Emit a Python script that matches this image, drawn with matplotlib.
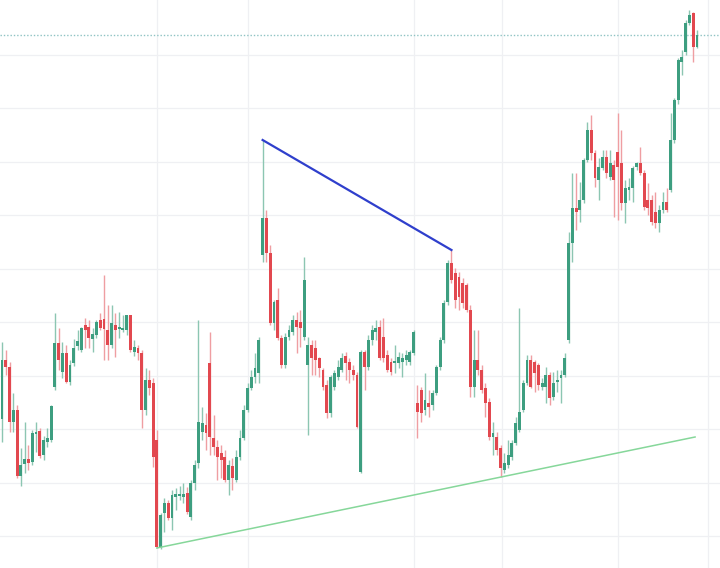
import numpy as np
import matplotlib
matplotlib.use("Agg")
import matplotlib.pyplot as plt

# OHLC, one entry per candle, left to right
opens = [118.1, 124.0, 123.3, 117.8, 119.0, 112.4, 113.6, 114.1, 113.8, 116.6,
         116.9, 114.5, 115.8, 116.0, 121.3, 125.7, 122.8, 124.7, 121.8, 123.7,
         125.4, 125.0, 127.5, 127.3, 126.1, 126.5, 128.0, 128.1, 127.0, 125.5,
         127.5, 127.1, 127.0, 127.0, 128.5, 124.8, 125.2, 124.7, 119.0, 122.0,
         121.7, 116.0, 105.3, 108.7, 109.7, 108.2, 110.3, 110.4, 110.3, 110.7,
         108.3, 111.7, 113.7, 116.8, 117.5, 123.7, 116.2, 115.3, 114.7, 114.3,
         112.0, 113.4, 112.0, 114.3, 116.2, 119.0, 121.2, 122.3, 122.7, 134.5,
         138.2, 134.7, 127.7, 130.0, 126.2, 123.5, 126.3, 126.8, 128.0, 127.8,
         126.3, 123.5, 125.5, 125.2, 124.2, 123.0, 121.5, 118.7, 121.3, 122.3,
         123.0, 124.4, 123.8, 123.0, 122.5, 112.8, 124.8, 123.3, 126.0, 126.8,
         127.3, 126.3, 124.5, 123.8, 123.7, 123.7, 123.8, 124.0, 123.8, 124.7,
         119.7, 121.0, 119.0, 119.7, 119.5, 120.7, 123.3, 126.0, 129.8, 133.7,
         132.7, 132.3, 131.7, 131.5, 129.0, 121.3, 124.0, 123.0, 121.2, 119.8,
         116.3, 116.3, 115.2, 113.0, 113.5, 114.3, 115.7, 117.0, 119.0, 121.7,
         124.0, 123.8, 123.5, 121.3, 121.3, 122.5, 120.3, 121.8, 122.2, 122.5,
         126.0, 135.7, 139.2, 139.0, 140.0, 144.0, 147.0, 144.7, 142.0, 143.2,
         144.3, 142.3, 143.5, 144.8, 143.7, 139.7, 141.0, 141.2, 143.3, 143.7,
         142.7, 140.0, 140.0, 138.8, 137.7, 139.0, 139.8, 141.0, 146.0, 150.0,
         153.8, 154.8, 157.7, 158.7, 155.3]
highs = [125.8, 125.0, 123.8, 120.7, 119.5, 115.2, 117.8, 115.5, 117.0, 117.8,
         117.2, 116.4, 117.2, 119.5, 128.7, 127.2, 125.8, 125.5, 124.0, 126.1,
         127.0, 127.3, 128.2, 128.0, 127.2, 128.0, 128.7, 132.5, 129.5, 129.5,
         128.7, 128.8, 128.5, 128.5, 128.5, 126.0, 125.5, 125.0, 123.2, 123.0,
         122.2, 117.0, 108.7, 110.2, 110.0, 111.0, 111.2, 111.4, 111.7, 111.3,
         112.0, 114.0, 128.0, 119.3, 118.7, 126.8, 118.5, 116.0, 115.5, 115.0,
         114.0, 114.2, 115.0, 117.0, 119.5, 121.7, 123.0, 124.7, 126.3, 146.0,
         139.0, 135.5, 130.0, 131.2, 126.5, 126.7, 127.5, 128.5, 128.8, 129.0,
         134.3, 126.3, 126.0, 126.0, 124.3, 123.2, 122.0, 122.5, 123.0, 124.0,
         124.7, 124.8, 124.2, 123.5, 122.8, 125.0, 125.0, 126.5, 127.5, 128.0,
         128.0, 128.2, 125.0, 124.2, 125.5, 124.8, 124.7, 125.0, 125.0, 127.0,
         121.5, 121.3, 122.7, 121.0, 121.0, 123.5, 126.3, 130.0, 134.0, 135.0,
         133.2, 132.8, 132.2, 131.7, 129.5, 127.0, 127.0, 123.5, 121.7, 120.2,
         117.8, 116.8, 115.5, 114.7, 116.0, 116.0, 118.3, 129.2, 122.0, 124.5,
         124.5, 124.0, 123.7, 122.2, 123.3, 122.8, 122.8, 123.0, 123.0, 124.7,
         136.8, 142.7, 142.7, 141.8, 144.2, 147.8, 148.5, 145.0, 144.2, 145.0,
         145.0, 145.0, 144.0, 148.7, 147.0, 142.0, 142.2, 143.4, 143.8, 145.3,
         143.0, 141.7, 140.5, 140.8, 139.5, 140.8, 141.2, 148.7, 150.2, 154.2,
         155.0, 158.0, 159.0, 158.8, 157.0]
lows = [115.8, 122.5, 116.8, 116.8, 112.2, 111.4, 112.7, 113.0, 113.5, 114.8,
        114.2, 114.0, 115.3, 115.8, 121.0, 123.0, 122.2, 121.7, 121.5, 123.4,
        125.0, 124.8, 125.2, 125.2, 124.8, 126.2, 127.0, 124.0, 124.0, 125.2,
        124.3, 126.2, 126.8, 126.5, 124.8, 124.4, 124.0, 117.2, 118.5, 120.5,
        113.3, 105.2, 105.1, 106.8, 108.0, 107.0, 109.0, 110.0, 109.7, 108.6,
        108.0, 111.0, 113.2, 116.0, 115.0, 114.5, 114.5, 112.0, 112.2, 111.8,
        110.5, 111.0, 111.8, 114.0, 116.0, 118.8, 121.0, 121.7, 121.7, 133.8,
        133.8, 127.5, 127.0, 126.0, 123.2, 123.2, 126.0, 126.5, 124.7, 125.3,
        126.0, 116.5, 122.5, 122.5, 122.3, 121.0, 118.2, 118.3, 121.0, 122.0,
        122.8, 122.0, 121.7, 122.0, 117.2, 112.7, 121.0, 123.0, 125.5, 126.0,
        124.0, 123.8, 122.8, 122.5, 122.7, 123.2, 122.3, 123.5, 123.5, 124.5,
        116.2, 117.8, 118.5, 118.3, 119.0, 120.5, 123.0, 125.7, 129.5, 131.7,
        129.2, 129.0, 129.2, 128.8, 120.3, 120.3, 122.5, 120.7, 118.3, 116.0,
        114.5, 114.5, 112.3, 112.7, 113.2, 114.0, 115.5, 116.8, 118.8, 121.5,
        121.2, 120.8, 121.0, 121.0, 119.7, 119.5, 120.0, 120.8, 119.7, 122.3,
        125.7, 133.8, 137.0, 137.8, 139.7, 143.8, 144.0, 141.3, 140.0, 143.0,
        142.2, 142.0, 138.3, 138.0, 139.0, 137.7, 140.0, 139.8, 143.0, 142.5,
        139.0, 138.5, 137.5, 137.2, 136.8, 138.7, 138.8, 140.8, 145.7, 149.6,
        152.5, 154.5, 157.5, 153.8, 155.2]
closes = [124.0, 123.3, 117.8, 119.0, 112.4, 113.5, 114.1, 113.7, 116.7, 116.8,
          114.4, 116.0, 116.2, 119.4, 125.7, 124.0, 124.7, 121.8, 123.5, 125.2,
          125.9, 127.2, 127.0, 126.2, 126.6, 127.8, 127.2, 127.1, 125.5, 127.7,
          127.0, 127.2, 127.2, 128.5, 125.0, 125.3, 124.7, 119.0, 122.0, 121.2,
          114.3, 105.3, 108.5, 109.7, 108.2, 110.5, 110.6, 110.6, 110.6, 108.8,
          111.7, 113.5, 117.8, 117.7, 116.7, 116.3, 115.3, 114.3, 114.0, 112.0,
          113.5, 112.2, 114.3, 116.2, 119.0, 121.2, 122.3, 123.2, 126.0, 138.2,
          134.7, 127.7, 129.8, 126.2, 123.5, 126.3, 127.0, 128.0, 127.3, 127.2,
          132.0, 125.5, 124.2, 124.0, 123.2, 121.3, 118.7, 122.3, 122.7, 123.3,
          124.2, 123.7, 123.0, 122.5, 117.3, 124.8, 123.3, 126.0, 127.0, 127.2,
          124.2, 124.2, 123.0, 122.8, 123.9, 124.3, 124.2, 124.5, 124.8, 126.8,
          118.8, 118.7, 120.0, 119.3, 120.7, 123.3, 126.0, 129.7, 133.7, 132.0,
          130.0, 130.3, 129.7, 129.0, 121.3, 124.0, 123.0, 121.0, 119.7, 116.3,
          116.7, 115.0, 113.2, 113.7, 114.5, 115.7, 117.7, 118.8, 121.7, 124.0,
          121.3, 122.7, 121.5, 121.7, 122.5, 120.2, 121.7, 122.0, 122.5, 124.2,
          135.7, 139.2, 138.8, 140.0, 144.0, 147.0, 144.7, 142.2, 143.3, 144.3,
          142.7, 143.7, 142.0, 143.3, 139.7, 141.2, 141.3, 143.2, 143.7, 142.7,
          139.3, 139.2, 137.8, 137.7, 139.0, 139.8, 139.0, 146.0, 150.0, 154.0,
          154.3, 157.7, 158.5, 155.3, 156.5]

# drawn lines: resistance between two swing highs, rising support line
res_idx = [69, 119]
sup_idx = [41, 183.5]
sup_price = [105.2, 116.3]
# period separators (vertical grid) and price grid
period_starts = [41, 65, 109, 132.5, 163, 187]
price_grid = np.arange(106.4, 158, 5.35)

o = np.array(opens); h = np.array(highs); l = np.array(lows); c = np.array(closes)
x = np.arange(len(o))
up = c >= o

GREEN, RED = "#3d9e80", "#e2484f"
GREEN_W, RED_W = "#8cc6b2", "#ef9ea2"

fig = plt.figure(figsize=(7.2, 5.68), dpi=100)
ax = fig.add_axes([0, 0, 1, 1])

for p in price_grid:
    ax.axhline(p, color="#eff0f3", lw=0.9, zorder=0)
for xv in period_starts:
    ax.axvline(xv, color="#eff0f3", lw=0.9, zorder=0)

ax.vlines(x[up], l[up], h[up], color=GREEN_W, lw=1.0, zorder=2)
ax.vlines(x[~up], l[~up], h[~up], color=RED_W, lw=1.0, zorder=2)
body = np.maximum(np.abs(c - o), 0.25)
ax.bar(x[up], body[up], bottom=np.minimum(o, c)[up], width=0.76, color=GREEN, lw=0, zorder=3)
ax.bar(x[~up], body[~up], bottom=np.minimum(o, c)[~up], width=0.76, color=RED, lw=0, zorder=3)

# last price line
ax.axhline(c[-1], color="#8ec3c3", lw=1.0, ls=(0, (1, 1.4)), zorder=1)

ax.plot(res_idx, h[res_idx], color="#2f3fcc", lw=1.6, zorder=4)
ax.plot(sup_idx, sup_price, color="#86d79a", lw=1.1, zorder=4)

ax.set_xlim(-0.53, 190.1)
ax.set_ylim(103.2, 160.0)
ax.axis("off")

fig.savefig("out.png", dpi=100, facecolor="white")
